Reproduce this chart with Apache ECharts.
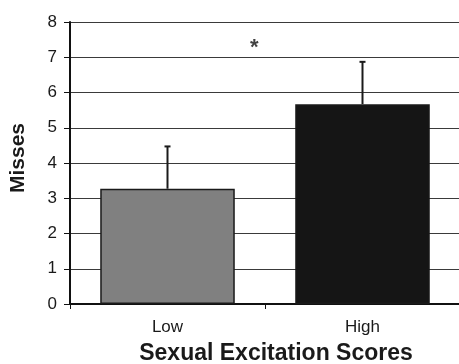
<!DOCTYPE html>
<html>
<head>
<meta charset="utf-8">
<script src="https://cdn.jsdelivr.net/npm/echarts@6/dist/echarts.min.js"></script>
<style>html,body{margin:0;padding:0;background:#fff}#c{width:459px;height:364px}</style>
</head>
<body>
<div id="c"></div>
<script>
const categories = ['Low', 'High'];
const means = [3.27, 5.67];
const errors = [1.2, 1.2];
const barColors = ['#808080', '#151515'];
const yTicks = [0, 1, 2, 3, 4, 5, 6, 7, 8];
const significance = [[0.945, 7.35, '*']];

const chart = echarts.init(document.getElementById('c'));
const font = 'Liberation Sans, Arial, sans-serif';
chart.setOption({
  animation: false,
  grid: { left: 70, top: 22, width: 390, height: 282, containLabel: false, outerBoundsMode: 'none' },
  xAxis: [{
    type: 'category',
    data: categories,
    boundaryGap: true,
    axisLine: { lineStyle: { color: '#111', width: 2 } },
    axisTick: { show: true, length: 5, lineStyle: { color: '#111', width: 1 } },
    axisLabel: { color: '#1a1a1a', fontSize: 17, fontFamily: font, margin: 15 },
    name: 'Sexual Excitation Scores',
    nameLocation: 'middle',
    nameGap: 38,
    nameTextStyle: { color: '#1a1a1a', fontSize: 23, fontWeight: 'bold', fontFamily: font, padding: [0, 0, 0, 22] }
  }, {
    type: 'value', min: 0, max: 2, show: false
  }],
  yAxis: {
    type: 'value',
    min: yTicks[0],
    max: yTicks[yTicks.length - 1],
    interval: 1,
    axisLine: { show: true, lineStyle: { color: '#111', width: 2 } },
    axisTick: { show: true, length: 6, lineStyle: { color: '#111', width: 1 } },
    axisLabel: { color: '#1a1a1a', fontSize: 17, fontFamily: font, margin: 13 },
    splitLine: { show: true, lineStyle: { color: '#3a3a3a', width: 1 } },
    name: 'Misses',
    nameLocation: 'middle',
    nameGap: 41,
    nameTextStyle: { color: '#1a1a1a', fontSize: 21, fontWeight: 'bold', fontFamily: font, padding: [0, 0, 0, 10] }
  },
  series: [{
    type: 'bar',
    xAxisIndex: 0,
    barWidth: '69%',
    data: means.map((v, i) => ({
      value: v,
      itemStyle: { color: barColors[i], borderColor: '#1a1a1a', borderWidth: 1.5 }
    })),
    z: 2
  }, {
    type: 'custom',
    xAxisIndex: 0,
    data: means.map((v, i) => [i, v, v + errors[i]]),
    renderItem: function (params, api) {
      const lo = api.coord([api.value(0), api.value(1)]);
      const hi = api.coord([api.value(0), api.value(2)]);
      return {
        type: 'group',
        children: [
          { type: 'line', shape: { x1: lo[0], y1: lo[1], x2: hi[0], y2: hi[1] }, style: { stroke: '#1a1a1a', lineWidth: 2 } },
          { type: 'line', shape: { x1: hi[0] - 3, y1: hi[1], x2: hi[0] + 3, y2: hi[1] }, style: { stroke: '#1a1a1a', lineWidth: 2 } }
        ]
      };
    },
    z: 3
  }, {
    type: 'scatter',
    xAxisIndex: 1,
    symbolSize: 0,
    data: significance.map(d => ({ value: [d[0], d[1]], label: { formatter: d[2] } })),
    label: { show: true, position: 'inside', color: '#111', fontSize: 22, fontWeight: 'bold', fontFamily: font, offset: [0, 3] },
    z: 4
  }]
});
</script>
</body>
</html>
